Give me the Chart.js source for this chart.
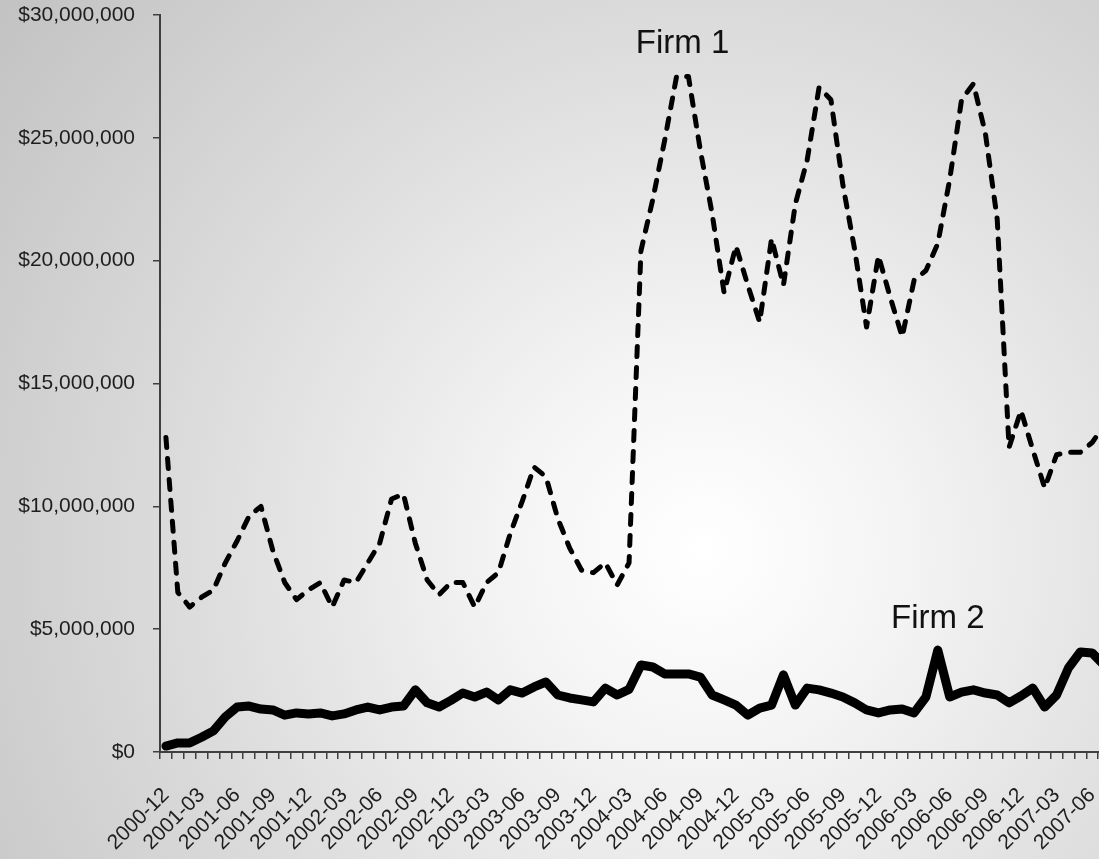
<!DOCTYPE html>
<html>
<head>
<meta charset="utf-8">
<script src="https://cdn.jsdelivr.net/npm/chart.js@4/dist/chart.umd.min.js"></script>
<style>
  html, body {
    margin: 0;
    padding: 0;
    width: 1099px;
    height: 859px;
    overflow: hidden;
    background: radial-gradient(circle farthest-corner at 64% 64%, #ffffff 0%, #f4f4f4 22%, #dedede 55%, #c2c2c2 100%);
  }
  #wrap { position: absolute; left: 0; top: 0; width: 1112px; height: 859px; }
  canvas { display: block; }
</style>
</head>
<body>
<div id="wrap"><canvas id="chart" width="1112" height="859"></canvas></div>
<script>
// Monthly revenue, December 2000 through July 2007 (values in $ millions)
const months = [
  '2000-12',
  '2001-01','2001-02','2001-03','2001-04','2001-05','2001-06','2001-07','2001-08','2001-09','2001-10','2001-11','2001-12',
  '2002-01','2002-02','2002-03','2002-04','2002-05','2002-06','2002-07','2002-08','2002-09','2002-10','2002-11','2002-12',
  '2003-01','2003-02','2003-03','2003-04','2003-05','2003-06','2003-07','2003-08','2003-09','2003-10','2003-11','2003-12',
  '2004-01','2004-02','2004-03','2004-04','2004-05','2004-06','2004-07','2004-08','2004-09','2004-10','2004-11','2004-12',
  '2005-01','2005-02','2005-03','2005-04','2005-05','2005-06','2005-07','2005-08','2005-09','2005-10','2005-11','2005-12',
  '2006-01','2006-02','2006-03','2006-04','2006-05','2006-06','2006-07','2006-08','2006-09','2006-10','2006-11','2006-12',
  '2007-01','2007-02','2007-03','2007-04','2007-05','2007-06','2007-07'
];

const firm1 = [
  12.8, 6.5, 5.9, 6.3, 6.6, 7.7, 8.6, 9.6, 10.0, 8.2,
  6.9, 6.2, 6.6, 6.9, 5.9, 7.0, 6.9, 7.7, 8.5, 10.3,
  10.5, 8.5, 7.0, 6.4, 6.9, 6.9, 5.9, 6.9, 7.3, 8.9,
  10.2, 11.6, 11.2, 9.5, 8.3, 7.4, 7.3, 7.7, 6.8, 7.7,
  20.4, 22.5, 24.9, 27.5, 27.5, 24.5, 21.9, 18.7, 20.6, 19.0,
  17.5, 20.9, 19.0, 22.3, 24.1, 27.05, 26.55, 23.1, 20.45, 17.3,
  20.2, 18.5, 16.9, 19.2, 19.6, 20.7, 23.3, 26.55, 27.2, 25.2,
  21.7, 12.4, 13.9, 12.3, 10.75, 12.1, 12.2, 12.2, 12.6, 13.3
];

const firm2 = [
  0.24, 0.37, 0.37, 0.6, 0.86, 1.43, 1.83, 1.87, 1.75, 1.71,
  1.5, 1.59, 1.55, 1.59, 1.47, 1.55, 1.71, 1.83, 1.71, 1.83,
  1.87, 2.53, 2.0, 1.83, 2.1, 2.4, 2.24, 2.44, 2.12, 2.53,
  2.4, 2.65, 2.85, 2.32, 2.2, 2.12, 2.04, 2.6, 2.32, 2.55,
  3.54, 3.46, 3.18, 3.18, 3.18, 3.05, 2.32, 2.12, 1.91, 1.5,
  1.79, 1.91, 3.14, 1.91, 2.6, 2.53, 2.4, 2.24, 2.0, 1.71,
  1.59, 1.71, 1.75, 1.59, 2.24, 4.15, 2.24, 2.44, 2.53, 2.4,
  2.32, 2.0, 2.28, 2.6, 1.83, 2.32, 3.42, 4.07, 4.03, 3.54
];

// Quarterly labels shown along the category axis
const xTickLabels = [
  '2000-12','2001-03','2001-06','2001-09','2001-12','2002-03','2002-06','2002-09','2002-12',
  '2003-03','2003-06','2003-09','2003-12','2004-03','2004-06','2004-09','2004-12',
  '2005-03','2005-06','2005-09','2005-12','2006-03','2006-06','2006-09','2006-12',
  '2007-03','2007-06'
];

const yTicks = [0, 5, 10, 15, 20, 25, 30];

// Series name labels placed beside each line (category index, value in $M)
const seriesLabels = [
  { text: 'Firm 1', at: 43.5, value: 28.45 },
  { text: 'Firm 2', at: 65, value: 5.05 }
];

const axisColor = '#3f3f3f';
const tickFont = { family: "'Liberation Sans', Arial, sans-serif", size: 21 };
const labelSet = new Set(xTickLabels);

const seriesLabelPlugin = {
  id: 'seriesLabels',
  afterDatasetsDraw(chart) {
    const { ctx, scales } = chart;
    ctx.save();
    ctx.fillStyle = '#111111';
    ctx.font = "33px 'Liberation Sans', Arial, sans-serif";
    ctx.textAlign = 'center';
    ctx.textBaseline = 'alphabetic';
    seriesLabels.forEach(l => {
      const x0 = scales.x.getPixelForValue(Math.floor(l.at));
      const x1 = scales.x.getPixelForValue(Math.ceil(l.at));
      const x = x0 + (x1 - x0) * (l.at - Math.floor(l.at));
      ctx.fillText(l.text, x, scales.y.getPixelForValue(l.value));
    });
    ctx.restore();
  }
};

new Chart(document.getElementById('chart'), {
  type: 'line',
  data: {
    labels: months,
    datasets: [
      {
        label: 'Firm 2',
        data: firm2,
        borderColor: '#000000',
        borderWidth: 9,
        borderCapStyle: 'round',
        borderJoinStyle: 'round',
        pointRadius: 0,
        tension: 0,
        fill: false
      },
      {
        label: 'Firm 1',
        data: firm1,
        borderColor: '#000000',
        borderWidth: 5,
        borderDash: [10, 11],
        borderCapStyle: 'round',
        borderJoinStyle: 'round',
        pointRadius: 0,
        tension: 0,
        fill: false
      }
    ]
  },
  options: {
    responsive: false,
    animation: false,
    devicePixelRatio: 1,
    layout: { padding: { top: 15, right: 2, left: 0, bottom: 0 } },
    plugins: {
      legend: { display: false },
      tooltip: { enabled: false }
    },
    scales: {
      x: {
        type: 'category',
        offset: true,
        grid: {
          offset: true,
          drawOnChartArea: false,
          drawTicks: true,
          tickLength: 7,
          color: axisColor,
          lineWidth: 1.5
        },
        border: { display: true, color: axisColor, width: 2 },
        ticks: {
          autoSkip: false,
          maxRotation: 45,
          minRotation: 45,
          padding: 24,
          color: '#1e1e1e',
          font: tickFont,
          callback: (value, index) => labelSet.has(months[index]) ? months[index] : ''
        },
        afterFit(scale) {
          scale.height = 107;
          scale.paddingLeft = 0;
          scale.paddingRight = 0;
        }
      },
      y: {
        min: 0,
        max: 30,
        afterBuildTicks(scale) {
          scale.ticks = yTicks.map(v => ({ value: v }));
        },
        grid: {
          drawOnChartArea: false,
          drawTicks: true,
          tickLength: 7,
          color: axisColor,
          lineWidth: 1.5
        },
        border: { display: true, color: axisColor, width: 2 },
        ticks: {
          padding: 18,
          color: '#1e1e1e',
          font: tickFont,
          callback: v => '$' + (v * 1000000).toLocaleString('en-US')
        },
        afterFit(scale) {
          scale.width = 160;
          scale.paddingTop = 0;
          scale.paddingBottom = 0;
        }
      }
    }
  },
  plugins: [seriesLabelPlugin]
});
</script>
</body>
</html>
